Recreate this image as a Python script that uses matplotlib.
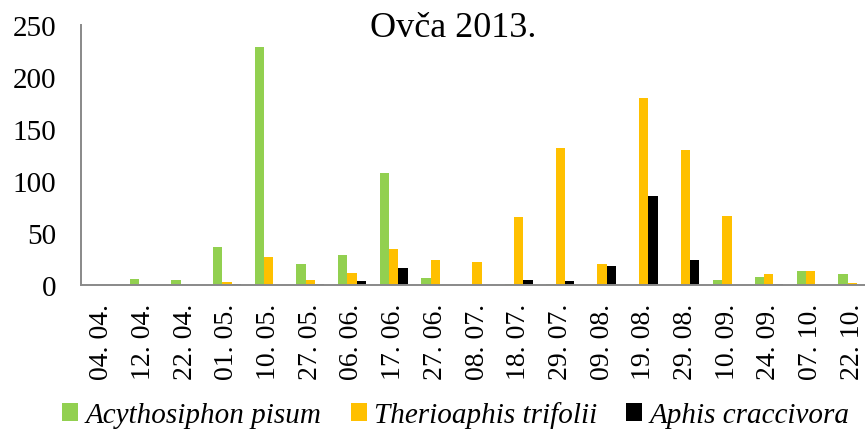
"""Aphid counts on the Ovča site, 2013 season, grouped by sampling date."""

import matplotlib.pyplot as plt
import numpy as np

DATES = [
    "04. 04.", "12. 04.", "22. 04.", "01. 05.", "10. 05.", "27. 05.", "06. 06.",
    "17. 06.", "27. 06.", "08. 07.", "18. 07.", "29. 07.", "09. 08.", "19. 08.",
    "29. 08.", "10. 09.", "24. 09.", "07. 10.", "22. 10.",
]
ACYRTHOSIPHON = [0, 6, 5, 37, 229, 20, 29, 108, 7, 0, 1, 1, 0, 0, 0, 5, 8, 13, 11]
THERIOAPHIS = [0, 0, 0, 3, 27, 5, 12, 35, 24, 22, 65, 132, 20, 180, 130, 66, 11, 13, 1.5]
APHIS = [0, 0, 0, 0.5, 0, 0.5, 4, 16, 0, 0, 5, 3.5, 18, 86, 24, 0, 0.5, 0, 0]

SERIES = [
    ("Acythosiphon pisum", ACYRTHOSIPHON, "#92D050"),
    ("Therioaphis trifolii", THERIOAPHIS, "#FFC000"),
    ("Aphis craccivora", APHIS, "#000000"),
]

plt.rcParams["font.family"] = ["Liberation Serif", "DejaVu Serif"]

fig = plt.figure(figsize=(8.65, 4.35), dpi=100)
ax = fig.add_axes([81 / 865, 149 / 435, 792 / 865, 260 / 435])

x = np.arange(len(DATES))
width = 1 / 4.5
for i, (name, values, color) in enumerate(SERIES):
    ax.bar(x + (i - 1) * width, values, width, color=color, label=name)

ax.set_xlim(-0.5, len(DATES) - 0.5)
ax.set_ylim(0, 250)
ax.set_yticks(range(0, 251, 50))
ax.set_xticks(x)
ax.set_xticklabels(DATES, rotation=90, fontsize=20)
ax.tick_params(axis="y", labelsize=21, length=0, pad=18)
ax.tick_params(axis="x", length=0, pad=13)

for side in ("top", "right"):
    ax.spines[side].set_visible(False)
for side in ("left", "bottom"):
    ax.spines[side].set_color("#898989")
    ax.spines[side].set_linewidth(1.4)

fig.text(453 / 865, 1 - 37 / 435, "Ovča 2013.", fontsize=26, ha="center", va="baseline")

handles, labels = ax.get_legend_handles_labels()
fig.legend(
    handles, labels, loc="center", bbox_to_anchor=(456 / 865, 1 - 416 / 435),
    ncol=3, frameon=False, prop={"style": "italic", "size": 21},
    handlelength=0.55, handleheight=0.55, handletextpad=0.25, columnspacing=1.0,
)

fig.savefig("out.png", dpi=100)
